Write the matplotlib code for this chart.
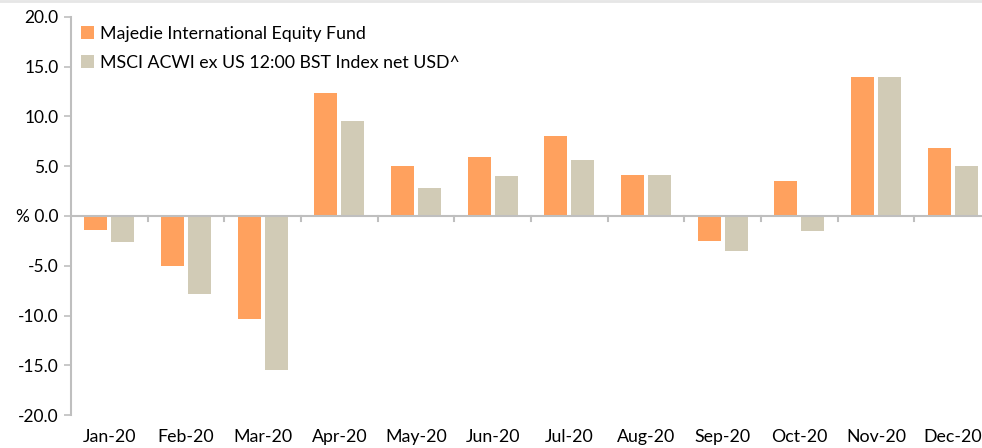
import matplotlib
matplotlib.use("Agg")
import matplotlib.pyplot as plt
import numpy as np

months = ["Jan-20", "Feb-20", "Mar-20", "Apr-20", "May-20", "Jun-20",
          "Jul-20", "Aug-20", "Sep-20", "Oct-20", "Nov-20", "Dec-20"]
fund = [-1.4, -5.0, -10.4, 12.4, 5.0, 5.9, 8.05, 4.1, -2.5, 3.5, 14.0, 6.8]
index = [-2.6, -7.85, -15.5, 9.5, 2.8, 4.05, 5.6, 4.1, -3.5, -1.5, 14.0, 5.0]
series_names = ["Majedie International Equity Fund",
                "MSCI ACWI ex US 12:00 BST Index net USD^"]
yticks = [20, 15, 10, 5, 0, -5, -10, -15, -20]

plt.rcParams['font.family'] = ['Lato', 'DejaVu Sans']

W, H = 982, 448
fig = plt.figure(figsize=(W / 100, H / 100), dpi=100)
ax = fig.add_axes([71 / W, 1 - 415 / H, 920 / W, (415 - 17) / H])

orange = "#FFA15E"
grey = "#D1CBB6"
axcol = "#BFBFBF"

x = np.arange(len(months))
bw = 0.30
ax.bar(x - 0.175, fund, bw, color=orange, label=series_names[0], zorder=2)
ax.bar(x + 0.175, index, bw, color=grey, label=series_names[1], zorder=2)

ax.set_xlim(-0.5, len(months) - 0.5)
ax.set_ylim(-20, 20)
ax.set_yticks(yticks)
ax.set_yticklabels(["% 0.0" if v == 0 else f"{v:.1f}" for v in yticks], fontsize=12.5)

for s in ["top", "right", "bottom"]:
    ax.spines[s].set_visible(False)
ax.spines["left"].set_color(axcol)
ax.spines["left"].set_linewidth(1.5)
ax.axhline(0, color=axcol, lw=1.5, zorder=3)
ax.tick_params(axis="y", length=5, color=axcol, width=1.2, pad=4, labelcolor="black")

# category boundary tick marks below zero line
ax.set_xticks([])
for b in np.arange(0.5, len(months) - 0.5, 1.0):
    ax.plot([b, b], [0, -0.55], color=axcol, lw=1.5, zorder=3, clip_on=False)
for i, m in enumerate(months):
    ax.text(i, -21.4, m, ha="center", va="top", fontsize=12.8)

leg = ax.legend(loc="upper left", bbox_to_anchor=(0.003, 0.995), frameon=False,
                fontsize=12.8, handlelength=0.75, handleheight=0.75,
                handletextpad=0.3, labelspacing=0.7, borderaxespad=0.0)

fig.add_artist(plt.Line2D([0, 1], [1 - 1 / H, 1 - 1 / H], transform=fig.transFigure,
                          color="#E6E6E6", lw=2))

fig.savefig("out.png", dpi=100)
